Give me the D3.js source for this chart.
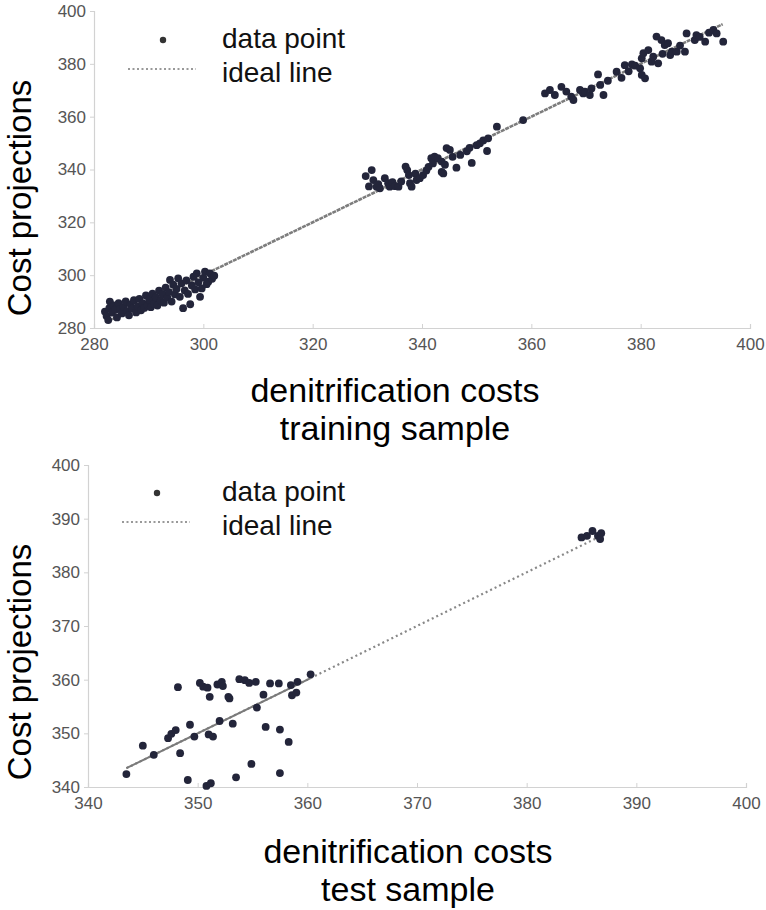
<!DOCTYPE html>
<html>
<head>
<meta charset="utf-8">
<script src="https://cdn.jsdelivr.net/npm/d3@7"></script>
<style>
  body { margin: 0; background: #fff; }
  svg text { font-family: "Liberation Sans", Arial, sans-serif; }
</style>
</head>
<body>
<svg id="chart" width="766" height="910"></svg>
<script>
// training sample (top panel)
const trainX = [
  282.0,282.3,282.6,282.8,282.9,283.3,283.6,283.9,284.2,284.5,284.8,285.1,285.4,285.8,286.1,286.4,286.7,287.0,287.3,287.7,
  288.0,288.3,288.6,288.9,289.2,289.5,289.8,290.1,290.4,290.7,291.0,291.3,291.6,291.9,292.2,292.5,292.8,293.1,293.4,293.7,
  293.9,294.2,294.5,294.8,295.1,295.4,295.7,296.0,296.3,296.6,296.9,297.2,297.6,297.9,298.2,298.5,298.8,299.1,299.4,299.7,
  300.0,300.3,300.6,300.9,301.2,301.6,302.0,
  329.7,330.3,330.8,331.1,331.7,332.0,332.3,333.2,333.8,334.1,334.6,335.1,335.7,336.2,337.0,337.3,337.6,337.8,338.1,338.8,
  339.0,339.6,340.2,340.8,341.2,341.7,342.0,342.3,342.9,343.6,343.6,343.9,344.2,344.5,345.1,345.6,346.3,347.0,348.2,348.7,
  349.1,350.0,350.6,351.2,351.9,352.1,353.7,358.5,
  362.5,363.4,364.3,365.5,366.4,367.3,367.7,368.9,369.5,369.8,370.7,371.0,372.2,372.6,373.2,374.0,375.6,376.5,377.1,377.8,
  378.4,379.0,379.9,380.2,380.5,380.2,380.8,381.4,382.0,382.3,383.2,382.9,383.8,384.0,384.4,385.0,385.4,385.7,386.6,387.2,
  388.1,388.4,389.9,390.2,390.8,391.8,392.5,393.3,393.9,395.1
];
const trainY = [
  286.2,284.5,283.0,287.5,290.0,285.8,288.6,286.9,284.0,289.4,287.2,285.5,288.0,290.1,286.4,284.8,288.9,287.3,290.5,285.9,
  288.2,291.0,286.7,289.4,287.6,292.3,288.6,290.7,287.9,293.0,289.2,291.6,288.5,294.1,290.4,292.8,289.6,295.3,291.5,293.6,
  298.2,290.0,296.4,292.7,294.8,298.8,291.8,296.9,287.5,294.2,298.0,292.9,289.0,296.1,299.4,294.6,300.7,297.3,291.8,295.0,
  299.0,301.3,296.6,297.5,300.7,298.6,299.8,
  337.5,333.6,339.8,336.0,333.5,334.5,332.9,336.7,334.8,333.5,335.2,333.7,333.5,335.5,341.1,339.8,337.9,334.8,333.5,338.4,
  336.0,336.7,337.9,339.6,341.0,344.3,342.3,344.9,344.3,343.0,339.1,338.5,341.8,348.1,347.4,344.8,340.7,345.5,346.9,348.2,
  342.5,349.2,349.9,351.0,347.0,351.8,356.2,358.7,
  368.8,370.1,368.2,371.3,369.5,367.6,366.3,370.1,368.8,369.5,368.2,370.7,376.0,372.0,368.2,373.6,377.0,374.7,379.5,377.2,
  379.8,379.3,378.3,382.1,384.0,375.8,374.5,385.2,380.8,382.7,380.2,390.3,389.0,383.8,387.1,387.8,383.3,384.6,384.6,386.9,
  384.6,391.5,389.0,390.9,390.2,388.4,391.8,392.8,391.5,388.4
];
const trainLine = [282.5, 395];
const trainTicks = [280, 300, 320, 340, 360, 380, 400];

// test sample (bottom panel)
const testX = [
  343.5,345.0,346.0,347.3,347.6,348.0,348.2,348.4,349.1,349.3,349.7,350.2,350.5,350.9,351.1,351.0,351.4,350.8,351.2,351.8,
  352.2,352.3,352.0,352.8,352.9,353.2,353.5,353.8,354.3,354.7,355.3,355.4,354.9,356.2,356.0,356.6,357.4,357.5,357.5,358.3,
  358.5,358.6,359.0,359.1,360.3,
  385.0,385.5,386.0,386.5,386.7,386.8
];
const testY = [
  342.4,347.7,346.0,349.1,349.9,350.6,358.6,346.3,341.3,351.6,349.4,359.4,358.7,358.5,356.8,349.8,349.4,340.2,340.7,359.1,
  359.6,358.8,352.3,356.8,356.5,351.8,341.8,360.1,359.9,359.4,359.6,354.8,344.3,351.2,357.2,359.3,359.3,350.7,342.6,348.4,
  359.0,357.1,357.6,359.6,361.0,
  386.5,386.8,387.7,386.8,386.2,387.3
];
const testLine = [343.5, 387];
const testFit = [343.5, 360.3];
const testXTicks = [340, 350, 360, 370, 380, 390, 400];
const testYTicks = [340, 350, 360, 370, 380, 390, 400];

const dotColor = "#23253a";
const axisColor = "#d2d2d2";
const tickText = "#555";

const svg = d3.select("#chart");

function drawPanel(opt) {
  const x = d3.scaleLinear().domain(opt.domain).range(opt.xRange);
  const y = d3.scaleLinear().domain(opt.domain).range(opt.yRange);
  const g = svg.append("g");

  // axes
  const xAxis = g.append("g")
    .attr("transform", `translate(0,${opt.yRange[0]})`)
    .call(d3.axisBottom(x).tickValues(opt.xTicks).tickSize(-4).tickPadding(10).tickFormat(d3.format("d")));
  const yAxis = g.append("g")
    .attr("transform", `translate(${opt.xRange[0]},0)`)
    .call(d3.axisLeft(y).tickValues(opt.yTicks).tickSize(4).tickPadding(4).tickFormat(d3.format("d")));
  [xAxis, yAxis].forEach(a => {
    a.select(".domain").attr("stroke", axisColor).attr("stroke-width", 1.2);
    a.selectAll(".tick line").attr("stroke", axisColor);
    a.selectAll(".tick text").attr("fill", tickText).style("font-size", "17px");
  });

  // ideal line
  g.append("line")
    .attr("x1", x(opt.line[0])).attr("y1", y(opt.line[0]))
    .attr("x2", x(opt.line[1])).attr("y2", y(opt.line[1]))
    .attr("stroke", opt.lineColor).attr("stroke-width", opt.lineWidth)
    .attr("stroke-dasharray", opt.lineDash);
  if (opt.fit) {
    g.append("line")
      .attr("x1", x(opt.fit[0])).attr("y1", y(opt.fit[0]))
      .attr("x2", x(opt.fit[1])).attr("y2", y(opt.fit[1]))
      .attr("stroke", "#7a7a7a").attr("stroke-width", 2);
  }

  // points
  g.selectAll("circle.pt")
    .data(opt.xs.map((v, i) => [v, opt.ys[i]]))
    .join("circle")
    .attr("class", "pt")
    .attr("cx", d => x(d[0]))
    .attr("cy", d => y(d[1]))
    .attr("r", 3.9)
    .attr("fill", dotColor);

  // legend
  const lg = g.append("g");
  lg.append("circle").attr("cx", opt.legend.x + 35).attr("cy", opt.legend.y).attr("r", 3.2).attr("fill", "#333");
  lg.append("line")
    .attr("x1", opt.legend.x).attr("x2", opt.legend.x + 68)
    .attr("y1", opt.legend.y + 29).attr("y2", opt.legend.y + 29)
    .attr("stroke", "#999").attr("stroke-width", 2).attr("stroke-dasharray", "2,2.5");
  lg.append("text").attr("x", opt.legend.tx).attr("y", opt.legend.y + 8)
    .style("font-size", "28px").attr("fill", "#111").text("data point");
  lg.append("text").attr("x", opt.legend.tx).attr("y", opt.legend.y + 42)
    .style("font-size", "28px").attr("fill", "#111").text("ideal line");

  // axis titles
  svg.append("text")
    .attr("transform", `translate(${opt.yTitle.x},${opt.yTitle.y}) rotate(-90)`)
    .attr("text-anchor", "middle")
    .style("font-size", "33px").attr("fill", "#000")
    .text("Cost projections");
  opt.xTitle.lines.forEach((t, i) => {
    svg.append("text")
      .attr("x", opt.xTitle.x).attr("y", opt.xTitle.y + i * 38)
      .attr("text-anchor", "middle")
      .style("font-size", "34px").attr("fill", "#000")
      .text(t);
  });
}

drawPanel({
  domain: [280, 400], xRange: [94, 750], yRange: [328, 11],
  xTicks: trainTicks, yTicks: trainTicks,
  xs: trainX, ys: trainY,
  line: trainLine, lineDash: "4,0.8", lineColor: "#7d7d7d", lineWidth: 2.6,
  legend: { x: 128, y: 40, tx: 222 },
  yTitle: { x: 31, y: 198 },
  xTitle: { x: 395, y: 402, lines: ["denitrification costs", "training sample"] }
});

drawPanel({
  domain: [340, 400], xRange: [88, 746], yRange: [787, 465],
  xTicks: testXTicks, yTicks: testYTicks,
  xs: testX, ys: testY,
  line: testLine, lineDash: "2,3", lineColor: "#888", lineWidth: 2.2, fit: testFit,
  legend: { x: 122, y: 493, tx: 222 },
  yTitle: { x: 31, y: 662 },
  xTitle: { x: 408, y: 863, lines: ["denitrification costs", "test sample"] }
});
</script>
</body>
</html>
